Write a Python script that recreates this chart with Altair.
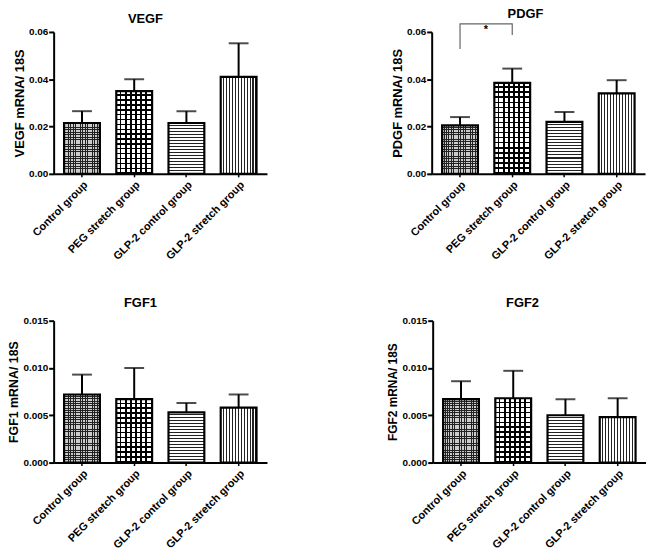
import altair as alt
import pandas as pd

categories = ["Control group", "PEG stretch group", "GLP-2 control group", "GLP-2 stretch group"]

vegf_mean = [0.0215, 0.0350, 0.0215, 0.0410]
vegf_upper = [0.0265, 0.0400, 0.0265, 0.0552]

pdgf_mean = [0.0205, 0.0385, 0.0220, 0.0340]
pdgf_upper = [0.0240, 0.0445, 0.0261, 0.0396]

fgf1_mean = [0.0072, 0.0067, 0.0053, 0.0058]
fgf1_upper = [0.0093, 0.0100, 0.0063, 0.0072]

fgf2_mean = [0.0067, 0.0068, 0.0050, 0.0048]
fgf2_upper = [0.0086, 0.0097, 0.0067, 0.0068]

ticks_top = [0.0, 0.02, 0.04, 0.06]
ticks_bottom = [0.0, 0.005, 0.010, 0.015]

bracket_x = ["Control group", "Control group", "PEG stretch group", "PEG stretch group"]
bracket_y = [0.0528, 0.0634, 0.0634, 0.0587]
star_y = [0.0607]

W, H = 215, 143
BAR_W = 36
FONT = "Liberation Sans"


def stripes(n, line_frac, line_col, bg_col, vertical):
    stops = []
    for i in range(n):
        s = i / n
        m = (i + 1 - line_frac) / n
        e = (i + 1) / n
        stops += [
            {"offset": round(s, 5), "color": bg_col},
            {"offset": round(m, 5), "color": bg_col},
            {"offset": round(m, 5), "color": line_col},
            {"offset": round(e, 5), "color": line_col},
        ]
    g = {"gradient": "linear", "stops": stops}
    if vertical:
        g.update({"x1": 0, "y1": 0, "x2": 1, "y2": 0})
    else:
        g.update({"x1": 0, "y1": 0, "x2": 0, "y2": 1})
    return g


def panel(title, ylabel, mean, upper, ymax, ticks, fmt, title_dx, title_off, title_dy,
          ytitle_size, bracket=False):
    df = pd.DataFrame({"group": categories, "mean": mean, "upper": upper})
    xscale = alt.Scale(paddingInner=0.314, paddingOuter=0.2)
    xaxis = alt.Axis(title=None, labelAngle=-45, labelAlign="right", labelBaseline="top",
                     domainWidth=2, tickSize=3, tickWidth=1.5, labelPadding=2)
    yscale = alt.Scale(domain=[0, ymax], nice=False, zero=True)
    yaxis = alt.Axis(title=ylabel, values=ticks, format=fmt, grid=False,
                     domainWidth=2, tickSize=5, tickWidth=2, labelPadding=1,
                     titlePadding=2, titleFontSize=ytitle_size)
    x = alt.X("group:N", sort=categories, scale=xscale, axis=xaxis)
    base = alt.Chart(df)
    layers = []
    for i, cat in enumerate(categories):
        hpx = mean[i] / ymax * H
        sub = base.transform_filter(alt.datum.group == cat)
        enc = dict(x=x, y=alt.Y("mean:Q", scale=yscale, axis=yaxis))
        if i == 0:
            n = max(1, int(round(hpx / 2.4)))
            f1 = stripes(n, 0.35, "#222222", "#cccccc", False)
            f2 = stripes(int(round(BAR_W / 2.4)), 0.35, "#222222", "rgba(0,0,0,0)", True)
            layers.append(sub.mark_bar(fill=f1, strokeWidth=0).encode(**enc))
            layers.append(sub.mark_bar(fill=f2, stroke="black", strokeWidth=2.2).encode(**enc))
        elif i == 1:
            n = max(1, int(round(hpx / 5)))
            f1 = stripes(n, 0.3, "#000000", "#ffffff", False)
            f2 = stripes(int(round(BAR_W / 5)), 0.3, "#000000", "rgba(0,0,0,0)", True)
            layers.append(sub.mark_bar(fill=f1, strokeWidth=0).encode(**enc))
            layers.append(sub.mark_bar(fill=f2, stroke="black", strokeWidth=2.2).encode(**enc))
        elif i == 2:
            n = max(1, int(round(hpx / 3)))
            f1 = stripes(n, 0.35, "#222222", "#ffffff", False)
            layers.append(sub.mark_bar(fill=f1, stroke="black", strokeWidth=2.2).encode(**enc))
        else:
            f1 = stripes(12, 0.35, "#222222", "#ffffff", True)
            layers.append(sub.mark_bar(fill=f1, stroke="black", strokeWidth=2.2).encode(**enc))
    layers.append(base.mark_rule(color="black", strokeWidth=2).encode(
        x=x, y=alt.Y("mean:Q", scale=yscale, axis=yaxis), y2="upper:Q"))
    layers.append(base.mark_tick(color="black", thickness=2, size=20).encode(
        x=x, y=alt.Y("upper:Q", scale=yscale, axis=yaxis)))
    if bracket:
        bdf = pd.DataFrame({"group": bracket_x, "upper": bracket_y, "k": list(range(4))})
        layers.append(alt.Chart(bdf).mark_line(color="#666666", strokeWidth=1.2).encode(
            x=x, y=alt.Y("upper:Q", scale=yscale, axis=yaxis), order="k:Q"))
        sdf = pd.DataFrame({"group": ["Control group"], "upper": star_y, "t": ["*"]})
        layers.append(alt.Chart(sdf).mark_text(dx=26, fontSize=11, font=FONT, fontWeight="bold",
                                               baseline="middle").encode(
            x=x, y=alt.Y("upper:Q", scale=yscale, axis=yaxis), text="t:N"))
    return alt.layer(*layers).properties(
        width=W, height=H,
        title=alt.TitleParams(title, frame="group", dx=title_dx, dy=title_dy,
                              offset=title_off))


vegf = panel("VEGF", "VEGF mRNA/ 18S", vegf_mean, vegf_upper, 0.06, ticks_top, ".2f",
             -15, 8, 7, 13)
pdgf = panel("PDGF", "PDGF mRNA/ 18S", pdgf_mean, pdgf_upper, 0.06, ticks_top, ".2f",
             -13, 8, 7, 13, bracket=True)
fgf1 = panel("FGF1", "FGF1  mRNA/ 18S", fgf1_mean, fgf1_upper, 0.015, ticks_bottom, ".3f",
             -20, 6, 0, 12.5)
fgf2 = panel("FGF2", "FGF2 mRNA/ 18S", fgf2_mean, fgf2_upper, 0.015, ticks_bottom, ".3f",
             -17, 6, 0, 12)

chart = alt.vconcat(
    alt.hconcat(vegf, pdgf, spacing=125),
    alt.hconcat(fgf1, fgf2, spacing=120),
    spacing=35,
).configure_view(stroke=None).configure_axis(
    labelFont=FONT, labelFontWeight="bold", labelFontSize=10, labelColor="black",
    titleFont=FONT, titleFontWeight="bold", titleFontSize=13, titleColor="black",
    domainColor="black", tickColor="black",
).configure_axisX(labelFontSize=11).configure_title(
    font=FONT, fontWeight="bold", fontSize=13, color="black"
).properties(padding={"left": -1, "top": -3, "right": 0, "bottom": 0})

chart.save("out.html", embed_options={"renderer": "svg", "actions": False})
